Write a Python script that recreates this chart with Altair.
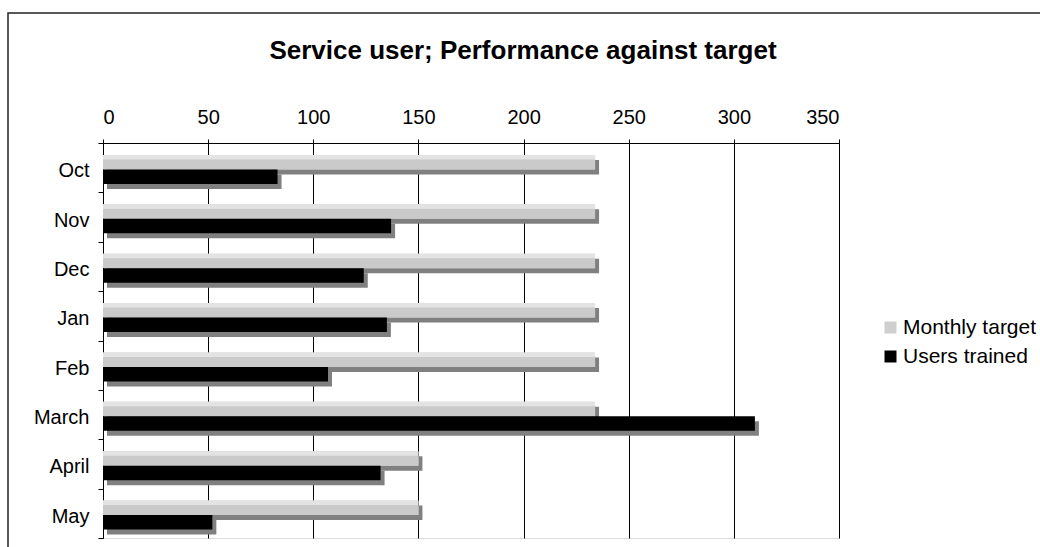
import altair as alt
import pandas as pd

# Monthly figures
months = ["Oct", "Nov", "Dec", "Jan", "Feb", "March", "April", "May"]
monthly_target = [234, 234, 234, 234, 234, 234, 150, 150]
users_trained = [83, 137, 124, 135, 107, 310, 132, 52]
series_names = ["Monthly target", "Users trained"]
x_ticks = [0, 50, 100, 150, 200, 250, 300, 350]

df = pd.DataFrame({
    "month": months * 2,
    "series": [series_names[0]] * len(months) + [series_names[1]] * len(months),
    "value": monthly_target + users_trained,
})

FONT = "Liberation Sans"
BAR_H = 14.5
SHADOW_DX, SHADOW_DY = 4, 5
TARGET_DY, USERS_DY = -5.5, 9

base = alt.Chart(df).encode(
    y=alt.Y(
        "month:N",
        sort=months,
        title=None,
        scale=alt.Scale(paddingInner=0, paddingOuter=0),
        axis=alt.Axis(
            tickBand="extent", ticks=True, tickSize=5, tickColor="black",
            domainColor="black", labelColor="black", labelFontSize=20,
            labelPadding=9, labelOffset=3, labelFont=FONT, grid=False,
        ),
    ),
    x=alt.X(
        "value:Q",
        title=None,
        scale=alt.Scale(domain=[0, 350], nice=False),
        axis=alt.Axis(
            orient="top", values=x_ticks, tickSize=4, tickColor="black",
            domainColor="black", labelColor="black", labelFontSize=20,
            labelPadding=12, labelFont=FONT, grid=True, gridColor="black",
            gridWidth=1, gridOpacity=1,
        ),
    ),
)

is_target = alt.datum.series == series_names[0]
is_users = alt.datum.series == series_names[1]

color = alt.Color(
    "series:N",
    scale=alt.Scale(domain=series_names, range=["#cfcfcf", "#000000"]),
    legend=alt.Legend(
        title=None, orient="none", legendX=777, legendY=174,
        symbolType="square", symbolSize=144, symbolStrokeWidth=0,
        labelFontSize=21, labelFont=FONT, labelColor="black",
        rowPadding=7, labelOffset=2,
    ),
)

target_shadow = base.transform_filter(is_target).mark_bar(
    color="#808080", height=BAR_H, xOffset=SHADOW_DX, yOffset=TARGET_DY + SHADOW_DY
)
users_shadow = base.transform_filter(is_users).mark_bar(
    color="#808080", height=BAR_H, xOffset=SHADOW_DX, yOffset=USERS_DY + SHADOW_DY
)
target_bars = base.transform_filter(is_target).mark_bar(
    height=BAR_H, yOffset=TARGET_DY
).encode(color=color)

# dithered-looking fill for the target bars
target_fill = base.transform_filter(is_target).mark_bar(
    height=BAR_H, yOffset=TARGET_DY,
    color=alt.Gradient(
        gradient="linear",
        stops=[
            alt.GradientStop(color="#e3e3e3", offset=0),
            alt.GradientStop(color="#e3e3e3", offset=0.28),
            alt.GradientStop(color="#cacaca", offset=0.34),
            alt.GradientStop(color="#cacaca", offset=1),
        ],
        x1=0, x2=0, y1=0, y2=1,
    ),
)
users_bars = base.transform_filter(is_users).mark_bar(
    height=BAR_H, yOffset=USERS_DY
).encode(color=color)

# outer chart frame
frame = alt.Chart(alt.Data(values=[{"k": 1}])).mark_rect(
    fill=None, stroke="#222222", strokeWidth=1.5
).encode(
    x=alt.value(-95), x2=alt.value(1000),
    y=alt.value(-130), y2=alt.value(500),
)

chart = alt.layer(
    frame, target_shadow, users_shadow, target_bars, target_fill, users_bars
).properties(
    width=736,
    height=395,
    padding={"left": 103, "top": 143, "right": 201, "bottom": 9},
    autosize=alt.AutoSizeParams(type="none"),
    title=alt.TitleParams(
        "Service user; Performance against target",
        fontSize=26, fontWeight="bold", font=FONT, color="black",
        anchor="middle", frame="group", offset=-52, dx=52,
    ),
).configure_view(stroke=None).configure(background="white")

chart.save("out.html", embed_options={"renderer": "svg", "actions": False})
